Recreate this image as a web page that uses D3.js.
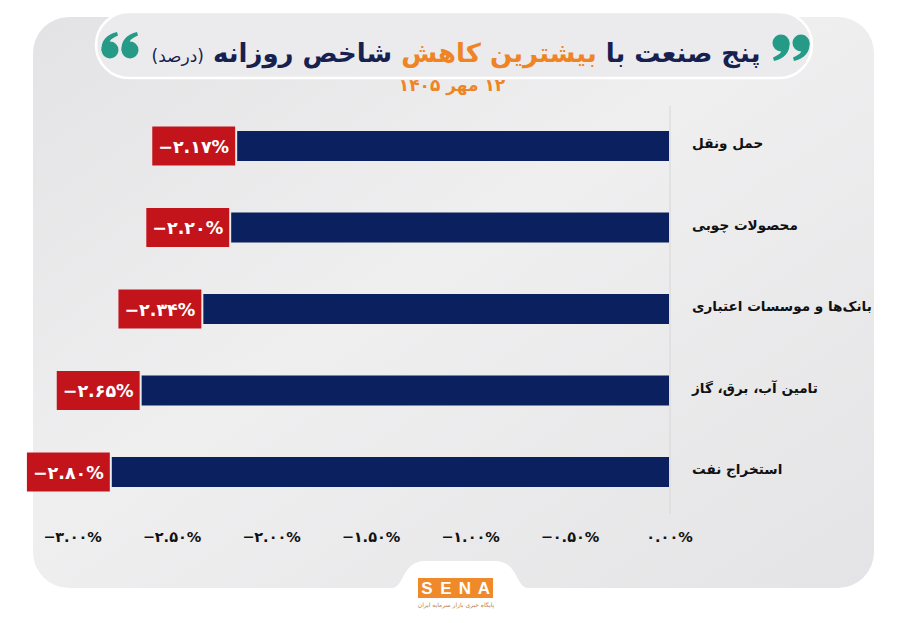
<!DOCTYPE html>
<html lang="fa">
<head>
  <meta charset="UTF-8">
  <title>پنج صنعت با بیشترین کاهش شاخص روزانه</title>
  <script src="https://d3js.org/d3.v7.min.js"></script>
  <style>
    body { margin: 0; background: #fff; }
    svg { display: block; font-family: "DejaVu Sans", sans-serif; }
  </style>
</head>
<body>
  <svg id="chart" width="900" height="623"></svg>
  <script>
    const industries = ["حمل ونقل", "محصولات چوبی", "بانک‌ها و موسسات اعتباری", "تامین آب، برق، گاز", "استخراج نفت"];
    const changes = [-2.17, -2.20, -2.34, -2.65, -2.80];
    const valueLabels = ["−۲.۱۷%", "−۲.۲۰%", "−۲.۳۴%", "−۲.۶۵%", "−۲.۸۰%"];
    const tickValues = [-3, -2.5, -2, -1.5, -1, -0.5, 0];
    const tickLabels = ["−۳.۰۰%", "−۲.۵۰%", "−۲.۰۰%", "−۱.۵۰%", "−۱.۰۰%", "−۰.۵۰%", "۰.۰۰%"];

    const svg = d3.select("#chart");
    const defs = svg.append("defs");

    const bg = defs.append("linearGradient").attr("id", "panelBg")
      .attr("x1", 0).attr("y1", 0).attr("x2", 1).attr("y2", 1);
    bg.append("stop").attr("offset", "0%").attr("stop-color", "#e3e3e5");
    bg.append("stop").attr("offset", "45%").attr("stop-color", "#efeff0");
    bg.append("stop").attr("offset", "100%").attr("stop-color", "#e4e4e6");

    // main panel
    svg.append("rect")
      .attr("x", 33).attr("y", 17).attr("width", 841).attr("height", 571)
      .attr("rx", 36).attr("fill", "url(#panelBg)");

    // header pill
    svg.append("rect")
      .attr("x", 96).attr("y", 12).attr("width", 716).attr("height", 66)
      .attr("rx", 33).attr("fill", "#ebebed")
      .attr("stroke", "#fff").attr("stroke-width", 2.5);

    // quote marks (66 on the left, 99 on the right)
    const quote = [
      { x: 110, y: 50, rot: 0 }, { x: 130, y: 50, rot: 0 },
      { x: 781, y: 43, rot: 180 }, { x: 801, y: 43, rot: 180 }
    ];
    const q = svg.append("g").selectAll("g").data(quote).join("g")
      .attr("transform", d => `translate(${d.x},${d.y}) rotate(${d.rot})`)
      .attr("fill", "#259b87");
    q.append("circle").attr("r", 8.5);
    q.append("path").attr("d", "M-8.5,1 C-9.5,-9 -3,-16 7,-18 L8,-14.5 C2,-12 -1,-9 0,-8 Z");

    const title = svg.append("text")
      .attr("x", 456).attr("y", 62)
      .attr("text-anchor", "middle")
      .attr("direction", "rtl")
      .attr("font-weight", "bold")
      .attr("font-size", 26)
      .attr("fill", "#17214f");
    title.append("tspan").text("پنج صنعت با ");
    title.append("tspan").attr("fill", "#ef8424").text("بیشترین کاهش");
    title.append("tspan").text(" شاخص روزانه ");
    title.append("tspan").attr("font-size", 17).attr("font-weight", "normal").text("(درصد)");

    svg.append("text")
      .attr("x", 452).attr("y", 91)
      .attr("text-anchor", "middle")
      .attr("direction", "rtl")
      .attr("font-weight", "bold")
      .attr("font-size", 17)
      .attr("fill", "#ef8424")
      .text("۱۲ مهر ۱۴۰۵");

    // scales
    const x = d3.scaleLinear().domain([-3, 0]).range([72, 669]);
    const y = d3.scalePoint().domain(industries).range([146, 472]);
    const barH = 30;

    svg.append("line")
      .attr("x1", x(0) + 1).attr("x2", x(0) + 1)
      .attr("y1", 106).attr("y2", 514)
      .attr("stroke", "#d6d6d8").attr("stroke-width", 1);

    const data = industries.map((name, i) => ({ name, value: changes[i], label: valueLabels[i] }));

    svg.append("g").selectAll("rect")
      .data(data).join("rect")
      .attr("x", d => x(d.value))
      .attr("y", d => y(d.name) - barH / 2)
      .attr("width", d => x(0) - x(d.value))
      .attr("height", barH)
      .attr("fill", "#0b215f");

    // value labels
    const lab = svg.append("g").selectAll("g")
      .data(data).join("g");
    const labText = lab.append("text")
      .attr("x", d => x(d.value) - 8)
      .attr("y", d => y(d.name) + 6.5)
      .attr("text-anchor", "end")
      .attr("direction", "ltr")
      .attr("font-weight", "bold")
      .attr("font-size", 17.5)
      .attr("fill", "#fff")
      .text(d => d.label);
    labText.each(function(d) {
      const w = this.getComputedTextLength();
      d3.select(this.parentNode).insert("rect", "text")
        .attr("x", x(d.value) - 2 - (w + 12))
        .attr("y", y(d.name) - 19.5)
        .attr("width", w + 12)
        .attr("height", 39)
        .attr("fill", "#c3141b");
    });

    // category labels
    svg.append("g").selectAll("text")
      .data(industries).join("text")
      .attr("x", 692)
      .attr("y", d => y(d) + 2)
      .attr("text-anchor", "end")
      .attr("direction", "rtl")
      .attr("font-weight", "bold")
      .attr("font-size", 13.6)
      .attr("fill", "#111")
      .text(d => d);

    // x axis
    const xAxis = d3.axisBottom(x)
      .tickValues(tickValues)
      .tickFormat((d, i) => tickLabels[i])
      .tickSize(0).tickPadding(0);
    const gx = svg.append("g").attr("transform", "translate(0,532)").call(xAxis);
    gx.select(".domain").remove();
    gx.selectAll("text")
      .attr("font-family", "DejaVu Sans, sans-serif")
      .attr("font-weight", "bold")
      .attr("font-size", 14.5)
      .attr("fill", "#111");

    // logo tab
    svg.append("path")
      .attr("d", "M392,588 C404,588 402,561 425,561 L495,561 C518,561 516,588 528,588 Z")
      .attr("fill", "#fff");
    svg.append("rect").attr("x", 418).attr("y", 578).attr("width", 75).attr("height", 20).attr("fill", "#f0892a");
    const letters = ["S", "E", "N", "A"];
    svg.append("g").selectAll("text").data(letters).join("text")
      .attr("x", (d, i) => 427 + i * 19)
      .attr("y", 594)
      .attr("text-anchor", "middle")
      .attr("font-family", "Liberation Sans, Arial, sans-serif")
      .attr("font-weight", "bold").attr("font-size", 17)
      .attr("fill", "#fff").text(d => d);
    svg.append("text")
      .attr("x", 456).attr("y", 607)
      .attr("text-anchor", "middle").attr("direction", "rtl")
      .attr("font-size", 6).attr("fill", "#b8824c")
      .text("پایگاه خبری بازار سرمایه ایران");
  </script>
</body>
</html>
